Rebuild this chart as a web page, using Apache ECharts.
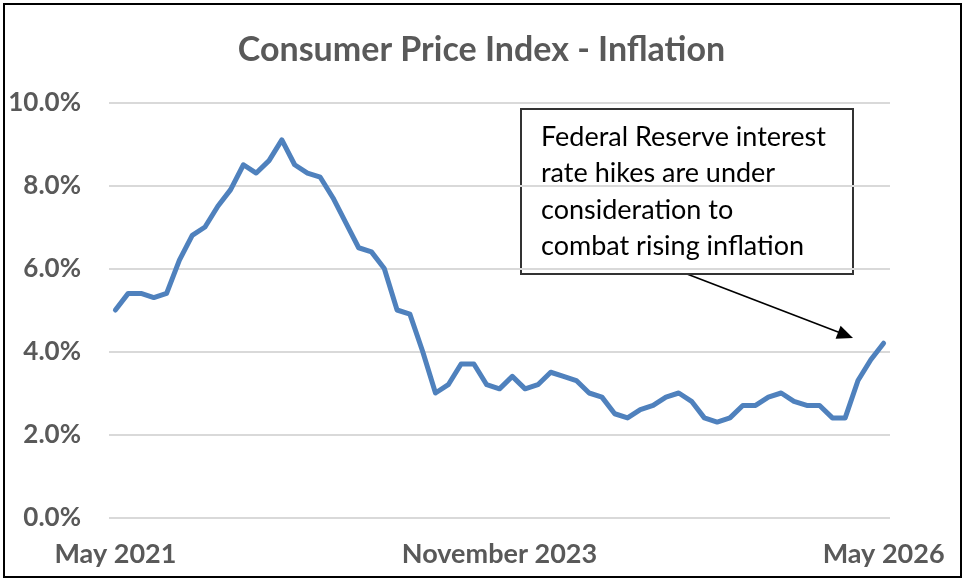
<!DOCTYPE html>
<html>
<head>
<meta charset="utf-8">
<script src="https://cdn.jsdelivr.net/npm/echarts@6/dist/echarts.min.js"></script>
<style>
  html, body { margin: 0; padding: 0; background: #ffffff; }
  #chart { width: 963px; height: 581px; }
</style>
</head>
<body>
<div id="chart"></div>
<script>
// Monthly CPI inflation, May 2021 – May 2026
const months = [
  'May 2021', 'June 2021', 'July 2021', 'August 2021', 'September 2021', 'October 2021',
  'November 2021', 'December 2021', 'January 2022', 'February 2022', 'March 2022', 'April 2022',
  'May 2022', 'June 2022', 'July 2022', 'August 2022', 'September 2022', 'October 2022',
  'November 2022', 'December 2022', 'January 2023', 'February 2023', 'March 2023', 'April 2023',
  'May 2023', 'June 2023', 'July 2023', 'August 2023', 'September 2023', 'October 2023',
  'November 2023', 'December 2023', 'January 2024', 'February 2024', 'March 2024', 'April 2024',
  'May 2024', 'June 2024', 'July 2024', 'August 2024', 'September 2024', 'October 2024',
  'November 2024', 'December 2024', 'January 2025', 'February 2025', 'March 2025', 'April 2025',
  'May 2025', 'June 2025', 'July 2025', 'August 2025', 'September 2025', 'October 2025',
  'November 2025', 'December 2025', 'January 2026', 'February 2026', 'March 2026', 'April 2026',
  'May 2026'
];

// Annual inflation rate, percent
const inflation = [
  5.0, 5.4, 5.4, 5.3, 5.4, 6.2, 6.8, 7.0, 7.5, 7.9, 8.5, 8.3,
  8.6, 9.1, 8.5, 8.3, 8.2, 7.7, 7.1, 6.5, 6.4, 6.0, 5.0, 4.9,
  4.0, 3.0, 3.2, 3.7, 3.7, 3.2, 3.1, 3.4, 3.1, 3.2, 3.5, 3.4,
  3.3, 3.0, 2.9, 2.5, 2.4, 2.6, 2.7, 2.9, 3.0, 2.8, 2.4, 2.3,
  2.4, 2.7, 2.7, 2.9, 3.0, 2.8, 2.7, 2.7, 2.4, 2.4, 3.3, 3.8,
  4.2
];

// Only these month labels appear under the axis
const shownMonths = ['May 2021', 'November 2023', 'May 2026'];

const calloutLines = [
  'Federal Reserve interest',
  'rate hikes are under',
  'consideration to',
  'combat rising inflation'
];

const FONT = 'Lato, "Open Sans", sans-serif';
const GREY = '#595959';

const chart = echarts.init(document.getElementById('chart'), null, { renderer: 'canvas' });

chart.setOption({
  animation: false,
  backgroundColor: '#ffffff',
  title: {
    text: 'Consumer Price Index - Inflation',
    left: 'center',
    top: 28,
    textStyle: { fontFamily: FONT, fontWeight: 'bold', fontSize: 34, color: GREY }
  },
  grid: { left: 109, right: 73, top: 102.5, bottom: 63.5, containLabel: false },
  xAxis: {
    type: 'category',
    data: months,
    boundaryGap: true,
    axisLine: { show: false },
    axisTick: { show: false },
    axisLabel: {
      interval: 0,
      formatter: (v) => (shownMonths.indexOf(v) >= 0 ? v : ''),
      margin: 23,
      fontFamily: FONT,
      fontWeight: 'bold',
      fontSize: 27,
      color: GREY
    }
  },
  yAxis: {
    type: 'value',
    min: 0,
    max: 10,
    interval: 2,
    axisLine: { show: false },
    axisTick: { show: false },
    splitLine: { lineStyle: { color: '#d9d9d9', width: 2 } },
    axisLabel: {
      margin: 28,
      formatter: (v) => v.toFixed(1) + '%',
      fontFamily: FONT,
      fontWeight: 'bold',
      fontSize: 26,
      color: GREY
    }
  },
  series: [{
    type: 'line',
    data: inflation,
    symbol: 'none',
    lineStyle: { color: '#4f81bd', width: 5, join: 'round', cap: 'round' }
  }],
  graphic: [
    {
      type: 'rect',
      shape: { x: 4, y: 4, width: 957, height: 573 },
      style: { fill: 'none', stroke: '#000000', lineWidth: 2 },
      z: 100
    },
    {
      type: 'group',
      z: 110,
      children: [
        {
          type: 'line',
          shape: { x1: 687, y1: 274, x2: 840, y2: 332.8 },
          style: { stroke: '#000000', lineWidth: 1.6 }
        },
        {
          type: 'polygon',
          shape: { points: [[853, 338], [835.6, 338.7], [840.6, 325.7]] },
          style: { fill: '#000000' }
        },
        {
          type: 'rect',
          shape: { x: 521, y: 109, width: 332, height: 165 },
          style: { fill: '#ffffff', stroke: '#333333', lineWidth: 2 }
        },
        {
          type: 'text',
          x: 541,
          y: 119,
          style: {
            text: calloutLines.join('\n'),
            fontFamily: FONT,
            fontSize: 27,
            lineHeight: 36.5,
            fill: '#000000',
            align: 'left',
            verticalAlign: 'top'
          }
        }
      ]
    }
  ]
});
</script>
</body>
</html>
